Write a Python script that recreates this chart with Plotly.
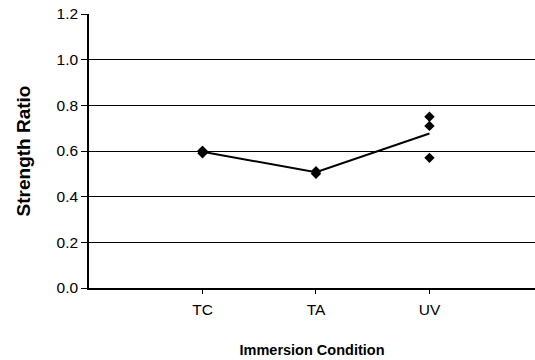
import numpy as np
import plotly.graph_objects as go

# Immersion conditions and measured strength ratios (three specimens each)
categories = ["TC", "TA", "UV"]
tc_values = [0.59, 0.60, 0.60]
ta_values = [0.50, 0.51, 0.51]
uv_values = [0.75, 0.71, 0.57]

y_ticks = [0.0, 0.2, 0.4, 0.6, 0.8, 1.0, 1.2]
y_tick_labels = ["0.0", "0.2", "0.4", "0.6", "0.8", "1.0", "1.2"]

groups = [tc_values, ta_values, uv_values]
point_x = [c for c, vals in zip(categories, groups) for _ in vals]
point_y = [v for vals in groups for v in vals]
means = [float(np.mean(vals)) for vals in groups]

FONT = "Liberation Sans, Arial, sans-serif"

fig = go.Figure()

# Mean line joining the conditions
fig.add_trace(go.Scatter(
    x=categories, y=means, mode="lines",
    line=dict(color="black", width=2),
    showlegend=False, hoverinfo="skip",
))

# Individual specimen results
fig.add_trace(go.Scatter(
    x=point_x, y=point_y, mode="markers",
    marker=dict(symbol="diamond", size=8, color="black"),
    showlegend=False,
))

fig.update_layout(
    width=535, height=360,
    margin=dict(l=89, r=0, t=14, b=72),
    paper_bgcolor="white", plot_bgcolor="white",
    font=dict(family=FONT, size=15, color="black"),
    xaxis=dict(
        type="category",
        categoryorder="array", categoryarray=categories,
        range=[-1.0, 2.93],
        showgrid=False, zeroline=False,
        showline=True, linecolor="black", linewidth=1.5,
        ticks="outside", ticklen=4, tickwidth=1, tickcolor="black",
        tickfont=dict(family=FONT, size=15.5),
        ticklabelstandoff=3,
        title=dict(text="<b>Immersion Condition</b>",
                   font=dict(family=FONT, size=14.5), standoff=28),
    ),
    yaxis=dict(
        range=[0, 1.2],
        tickvals=y_ticks, ticktext=y_tick_labels,
        showgrid=True, gridcolor="black", gridwidth=1,
        zeroline=False,
        showline=True, linecolor="black", linewidth=1.5,
        ticks="outside", ticklen=6, tickwidth=1, tickcolor="black",
        tickfont=dict(family=FONT, size=15.5),
        title=dict(text="<b>Strength Ratio</b>",
                   font=dict(family=FONT, size=19), standoff=21),
    ),
)

fig.write_html("out.html")
